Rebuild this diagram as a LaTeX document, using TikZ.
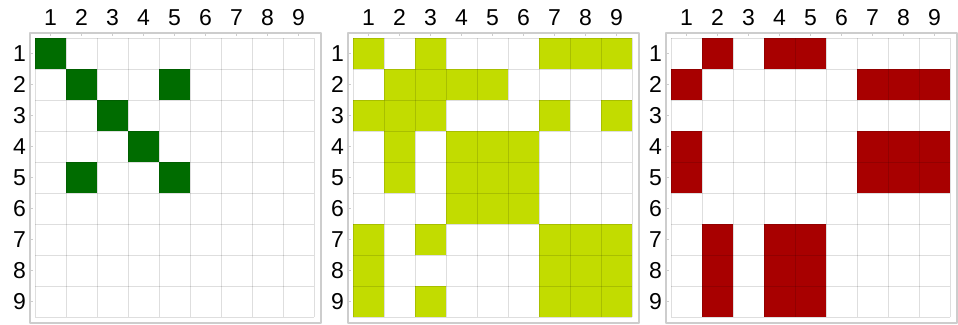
\documentclass[tikz,border=0pt]{standalone}
\usepackage{fontspec}
\setmainfont{Liberation Sans}

\definecolor{cellgreen}{RGB}{0,108,0}
\definecolor{celllime}{RGB}{194,220,0}
\definecolor{cellred}{RGB}{168,0,0}
\definecolor{framegray}{RGB}{205,205,205}

\tikzset{
  gridline/.style={black,opacity=0.13,line width=0.9pt},
  framebox/.style={framegray,line width=1.1pt},
  ticklabel/.style={inner sep=0pt,font=\fontsize{23}{26}\selectfont}
}

\begin{document}
\begin{tikzpicture}[
  x=1pt,
  y=-1pt,
  line join=round
]
  % Поле рисунка
  \useasboundingbox (0,0) rectangle (958,324);

  % Три матрицы 9x9:
  % левый край ячеек, цвет, занятые клетки (строка/столбец)
  \foreach \ox/\clr/\cells/\n in {
    35/cellgreen/{1/1,2/2,2/5,3/3,4/4,5/2,5/5}/a,
    353/celllime/{1/1,1/3,1/7,1/8,1/9,
                  2/2,2/3,2/4,2/5,
                  3/1,3/2,3/3,3/7,3/9,
                  4/2,4/4,4/5,4/6,
                  5/2,5/4,5/5,5/6,
                  6/4,6/5,6/6,
                  7/1,7/3,7/7,7/8,7/9,
                  8/1,8/7,8/8,8/9,
                  9/1,9/3,9/7,9/8,9/9}/b,
    671/cellred/{1/2,1/4,1/5,
                 2/1,2/7,2/8,2/9,
                 4/1,4/7,4/8,4/9,
                 5/1,5/7,5/8,5/9,
                 7/2,7/4,7/5,
                 8/2,8/4,8/5,
                 9/2,9/4,9/5}/c
  } {
    % Рамка
    \draw[framebox]
      (\ox-5,33) rectangle (\ox+286,323);

    % Закрашенные клетки
    \foreach \r/\c in \cells {
      \fill[\clr]
        (\ox+31*\c-31,7+31*\r) rectangle ++(31,31);
    }

    % Линии сетки
    \foreach \k in {0,...,9} {
      \draw[gridline]
        (\ox+31*\k,38) -- (\ox+31*\k,317);
      \draw[gridline]
        (\ox,38+31*\k) -- (\ox+279,38+31*\k);
    }

    % Подписи и засечки
    \foreach \k in {1,...,9} {
      \node[ticklabel] (\n-col-\k)
        at (\ox+31*\k-15.5,17.7) {\k};
      \node[ticklabel,anchor=east] (\n-row-\k)
        at (\ox-9,22.5+31*\k) {\k};

      \draw[framegray,line width=0.8pt]
        (\ox+31*\k-15.5,33) -- ++(0,2.5);
      \draw[framegray,line width=0.8pt]
        (\ox-5,22.5+31*\k) -- ++(2.5,0);
    }
  }
\end{tikzpicture}
\end{document}
